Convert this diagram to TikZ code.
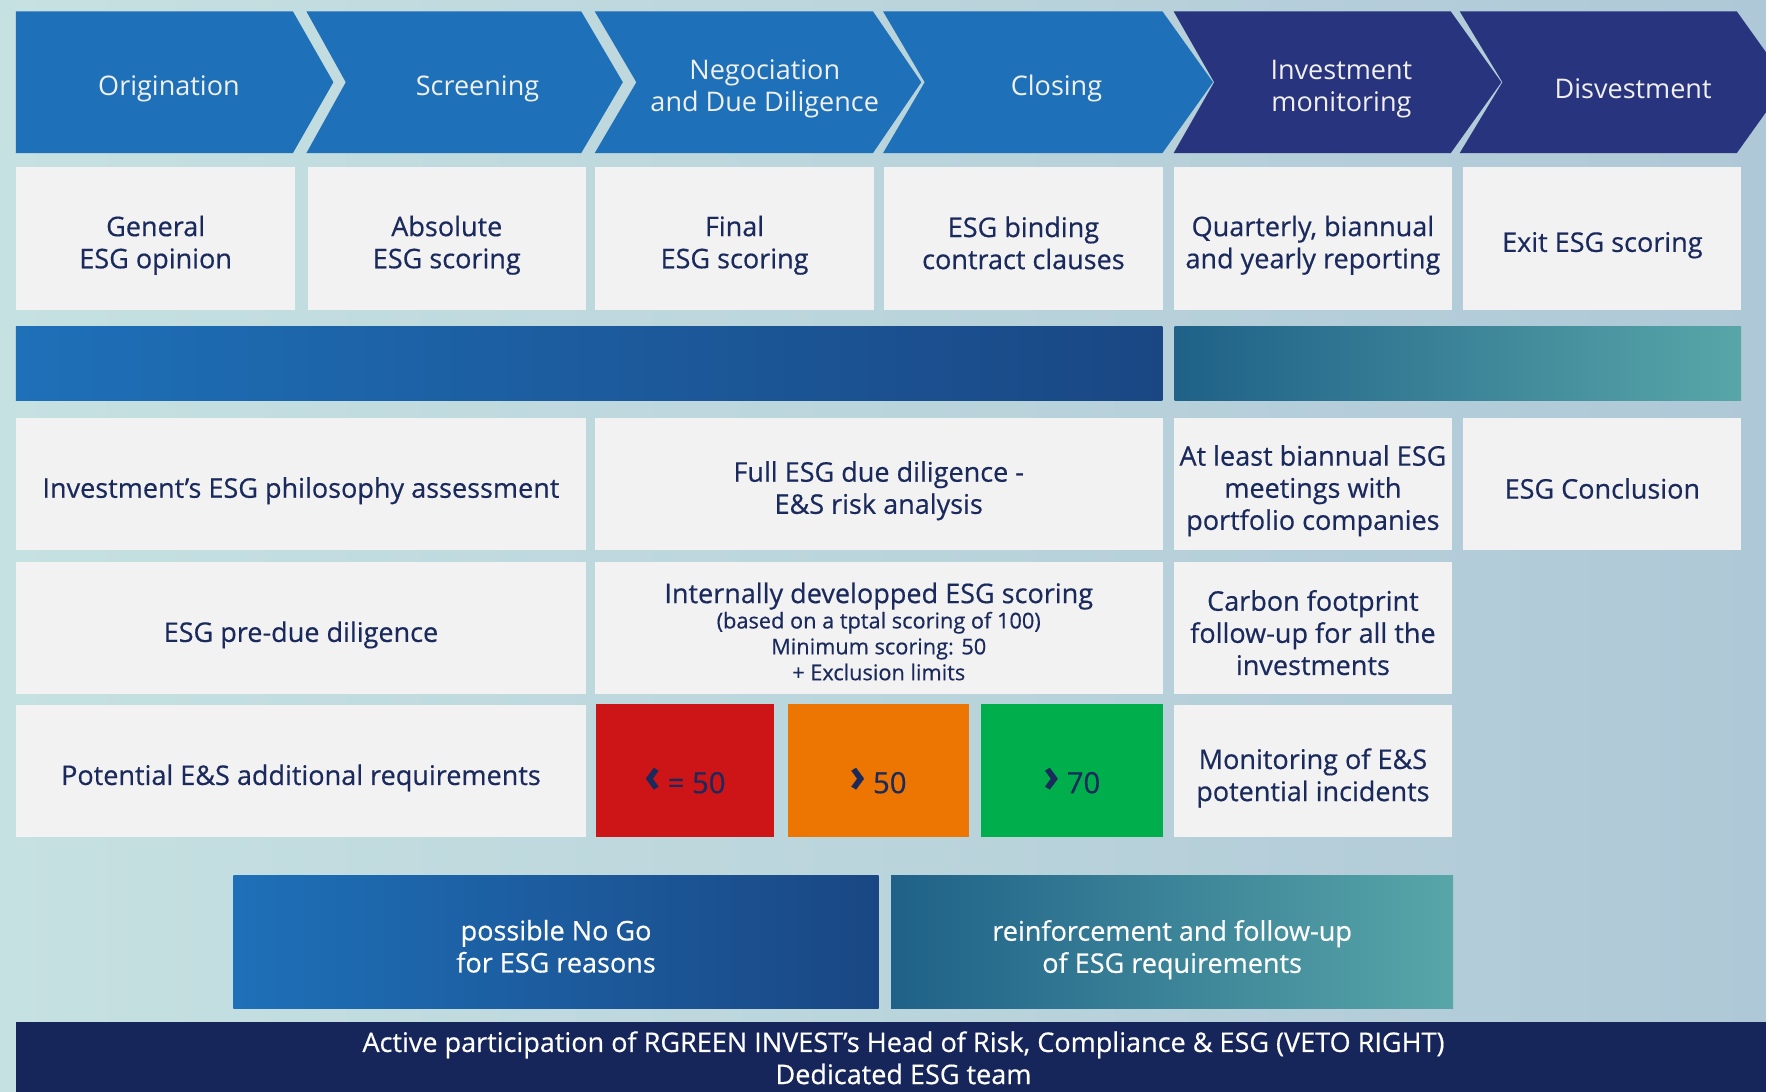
\documentclass[tikz,border=0pt]{standalone}
\usepackage{fontspec}
\usepackage{graphicx}
\setmainfont{Open Sans}
\newfontfamily\bodyfont{Open Sans}[RawFeature={embolden=0.5}]
\definecolor{bgL}{HTML}{C6E1E1}
\definecolor{bgR}{HTML}{AFC8D7}
\definecolor{stepblue}{HTML}{1E70B8}
\definecolor{stepnavy}{HTML}{29347E}
\definecolor{cellgray}{HTML}{F2F2F2}
\definecolor{ink}{HTML}{1B2A5C}
\definecolor{blueA}{HTML}{1E70B8}
\definecolor{blueB}{HTML}{1A4784}
\definecolor{tealA}{HTML}{1F6188}
\definecolor{tealB}{HTML}{58A6A8}
\definecolor{scoreRed}{HTML}{CD1417}
\definecolor{scoreOrange}{HTML}{EC7601}
\definecolor{scoreGreen}{HTML}{00AF4B}
\definecolor{footer}{HTML}{17265A}
\newcommand{\smalltxt}{\fontsize{19.3}{23}\selectfont}
\newcommand{\lt}{\raisebox{1.5pt}{\scalebox{1.45}[1.6]{\bfseries ‹}}}
\newcommand{\gt}{\raisebox{1.5pt}{\scalebox{1.45}[1.6]{\bfseries ›}}}
% a filled cell (name, x, y, width, height, box options, text options, text)
\newcommand{\cellat}[8]{%
  \node[cellbox, minimum width=#4, minimum height=#5, #6] (#1) at (#2,#3) {};
  \node[txt, text=ink, #7] (#1t) at ([yshift=-6pt]#1.center) {#8};}
\begin{document}
\begin{tikzpicture}[x=1pt,y=-1pt,
  txt/.style={font=\bodyfont\fontsize{24}{28.5}\selectfont, align=center, inner sep=0pt},
  steptxt/.style={font=\fontsize{24}{28.5}\selectfont, align=center, inner sep=0pt, text=white!94!black},
  cellbox/.style={fill=cellgray, anchor=north west, inner sep=0pt},
  bluegrad/.style={left color=blueA, right color=blueB},
  tealgrad/.style={left color=tealA, right color=tealB},
]
% background
\shade[left color=bgL, right color=bgR] (0,0) rectangle (1568,969);
\useasboundingbox (0,0) rectangle (1568,969);

% process steps (chevrons)
\fill[stepblue] (14,10) -- (260,10) -- (296,73) -- (260,136) -- (14,136) -- cycle;
\fill[stepblue] (272,10) -- (516,10) -- (553,73) -- (516,136) -- (272,136) -- (307,73) -- cycle;
\fill[stepblue] (528,10) -- (775,10) -- (818,73) -- (775,136) -- (528,136) -- (565,73) -- cycle;
\fill[stepblue] (784,10) -- (1032,10) -- (1077,73) -- (1032,136) -- (784,136) -- (821,73) -- cycle;
\fill[stepnavy] (1042,10) -- (1288,10) -- (1333,73) -- (1288,136) -- (1042,136) -- (1078,73) -- cycle;
\fill[stepnavy] (1296,10) -- (1542,10) -- (1587,73) -- (1542,136) -- (1296,136) -- (1334,73) -- cycle;

\node[steptxt] (s1) at (150,79) {Origination};
\node[steptxt] (s2) at (424,79) {Screening};
\node[steptxt] (s3) at (679,79) {Negociation\\and Due Diligence};
\node[steptxt] (s4) at (938,79) {Closing};
\node[steptxt] (s5) at (1191,79) {Investment\\monitoring};
\node[steptxt] (s6) at (1450,79) {Disvestment};

% outputs of each step
\cellat{o1}{14}{148}{248}{127}{}{}{General\\ESG opinion}
\cellat{o2}{273}{148}{247}{127}{}{}{Absolute\\ESG scoring}
\cellat{o3}{528}{148}{248}{127}{}{}{Final\\ESG scoring}
\cellat{o4}{785}{148}{247}{127}{}{yshift=2pt}{ESG binding\\contract clauses}
\cellat{o5}{1042}{148}{247}{127}{}{}{Quarterly, biannual\\and yearly reporting}
\cellat{o6}{1299}{148}{247}{127}{}{}{Exit ESG scoring}

% phase bars
\shade[bluegrad] (14,290) rectangle (1032,356);
\shade[tealgrad] (1043,290) rectangle (1546,356);

% detail rows
\cellat{d1}{14}{371}{506}{117}{}{}{Investment’s ESG philosophy assessment}
\cellat{d2}{528}{371}{504}{117}{}{}{Full ESG due diligence -\\E\&S risk analysis}
\cellat{d3}{1042}{371}{247}{117}{}{}{At least biannual ESG\\meetings with\\portfolio companies}
\cellat{d4}{1299}{371}{247}{117}{}{yshift=2pt}{ESG Conclusion}

\cellat{e1}{14}{499}{506}{117}{}{}{ESG pre-due diligence}
\cellat{e2}{528}{499}{504}{117}{}{yshift=3pt}{Internally developped ESG scoring\\[-6pt]
  \smalltxt (based on a tptal scoring of 100)\\[-5.5pt]\smalltxt Minimum scoring: 50\\[-5.5pt]\smalltxt + Exclusion limits}
\cellat{e3}{1042}{499}{247}{117}{}{yshift=2pt}{Carbon footprint\\follow-up for all the\\investments}

\cellat{f1}{14}{626}{506}{117}{}{}{Potential E\&S additional requirements}
\cellat{r1}{529}{625}{158}{118}{fill=scoreRed}{yshift=-3pt, font=\bodyfont\fontsize{26}{30}\selectfont}{\lt{} = 50}
\cellat{r2}{699}{625}{161}{118}{fill=scoreOrange}{yshift=-3pt, font=\bodyfont\fontsize{26}{30}\selectfont}{\gt{} 50}
\cellat{r3}{871}{625}{161}{118}{fill=scoreGreen}{yshift=-3pt, font=\bodyfont\fontsize{26}{30}\selectfont}{\gt{} 70}
\cellat{f3}{1042}{626}{247}{117}{}{}{Monitoring of E\&S\\potential incidents}

% outcomes
\cellat{g1}{207}{777}{573}{118}{bluegrad}{text=white, yshift=2pt}{possible No Go\\for ESG reasons}
\cellat{g2}{791}{777}{499}{118}{tealgrad}{text=white, yshift=-1pt}{reinforcement and follow-up\\of ESG requirements}

% governance
\cellat{team}{14}{907}{1576}{62}{fill=footer}{text=white, yshift=5pt}%
  {Active participation of RGREEN INVEST’s Head of Risk, Compliance \& ESG (VETO RIGHT)\\Dedicated ESG team}
\end{tikzpicture}
\end{document}
